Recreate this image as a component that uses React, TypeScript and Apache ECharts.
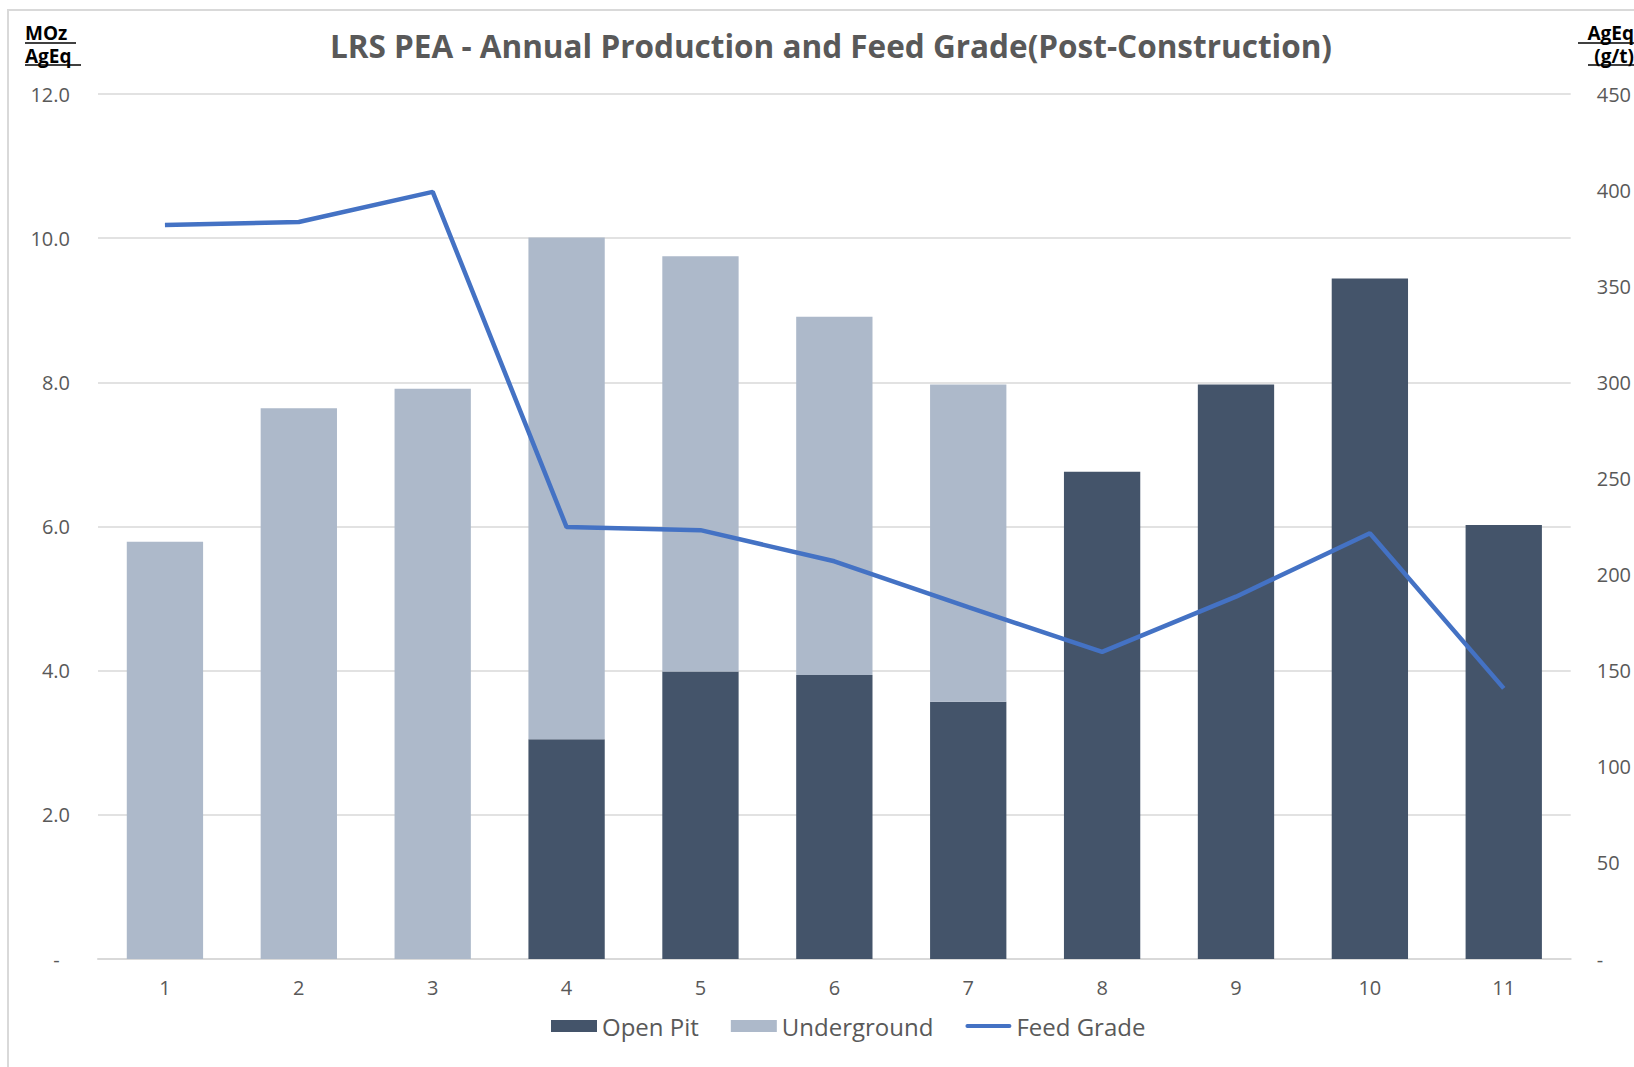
import React, { useEffect, useRef } from "react";
import * as echarts from "echarts";

const categories = ["1", "2", "3", "4", "5", "6", "7", "8", "9", "10", "11"];
const openPit = [0, 0, 0, 3.05, 3.99, 3.94, 3.57, 6.76, 7.97, 9.44, 6.02];
const underground = [5.79, 7.64, 7.91, 6.96, 5.76, 4.97, 4.4, 0, 0, 0, 0];
const feedGrade = [381.8, 383.4, 399.1, 224.7, 223.1, 206.9, 183.0, 159.8, 188.5, 221.5, 140.8];

const TITLE = "LRS PEA - Annual Production and Feed Grade(Post-Construction)";
const FONT = "'Open Sans', 'Noto Sans', sans-serif";

export default function App() {
  const ref = useRef<HTMLDivElement>(null);
  useEffect(() => {
    const chart = echarts.init(ref.current!, null, { renderer: "svg" });
    const hdr = (text: string, x: number, y: number, align: string) => ({
      type: "text",
      x,
      y,
      style: {
        text,
        font: `bold 19px ${FONT}`,
        fill: "#000000",
        align,
        verticalAlign: "top",
      },
    });
    const ul = (x1: number, x2: number, y: number) => ({
      type: "line",
      shape: { x1, y1: y, x2, y2: y },
      style: { stroke: "#000", lineWidth: 1.5 },
      silent: true,
    });
    chart.setOption({
      animation: false,
      backgroundColor: "#ffffff",
      textStyle: { fontFamily: FONT },
      title: {
        text: TITLE,
        left: 826,
        textAlign: "center",
        top: 24,
        textStyle: { fontSize: 31.5, fontWeight: "bold", color: "#595959", fontFamily: FONT },
      },
      graphic: [
        {
          type: "rect",
          shape: { x: 8, y: 10, width: 1700, height: 1100 },
          style: { fill: "none", stroke: "#d9d9d9", lineWidth: 2 },
          silent: true,
        },
        hdr("MOz", 25, 23, "left"),
        hdr("AgEq", 25, 46, "left"),
        ul(25, 76, 43),
        ul(25, 81, 65),
        hdr("AgEq", 1634, 23, "right"),
        hdr("(g/t)", 1634, 46, "right"),
        ul(1578, 1634, 43),
        ul(1588, 1634, 65),
      ],
      legend: {
        bottom: 24,
        left: 546,
        itemWidth: 46,
        itemHeight: 12,
        itemGap: 32,
        textStyle: { fontSize: 24, color: "#595959", fontFamily: FONT },
        data: [
          { name: "Open Pit", icon: "rect" },
          { name: "Underground", icon: "rect" },
          {
            name: "Feed Grade",
            icon: "path://M0,0 L0,0 M2,4 L44,4 A2,2 0 0 1 44,8 L2,8 A2,2 0 0 1 2,4 Z M46,12 L46,12",
          },
        ],
      },
      grid: { left: 98, right: 62, top: 94, bottom: 108, containLabel: false },
      xAxis: {
        type: "category",
        data: categories,
        axisLine: { lineStyle: { color: "#d9d9d9", width: 2 } },
        axisTick: { show: false },
        axisLabel: { fontSize: 20, color: "#595959", margin: 18 },
      },
      yAxis: [
        {
          type: "value",
          min: 0,
          max: 12,
          interval: 2,
          axisLine: { show: false },
          axisTick: { show: false },
          splitLine: { lineStyle: { color: "#d9d9d9", width: 1.5 } },
          axisLabel: {
            fontSize: 20,
            color: "#595959",
            margin: 28,
            formatter: (v: number) => (v === 0 ? "-  " : v.toFixed(1)),
          },
        },
        {
          type: "value",
          min: 0,
          max: 450,
          interval: 50,
          position: "right",
          axisLine: { show: false },
          axisTick: { show: false },
          splitLine: { show: false },
          axisLabel: {
            fontSize: 20,
            color: "#595959",
            margin: 26,
            formatter: (v: number) => (v === 0 ? "-" : String(v)),
          },
        },
      ],
      series: [
        {
          name: "Open Pit",
          type: "bar",
          stack: "prod",
          data: openPit,
          barWidth: "57%",
          itemStyle: { color: "#44546A" },
        },
        {
          name: "Underground",
          type: "bar",
          stack: "prod",
          data: underground,
          barWidth: "57%",
          itemStyle: { color: "#ADB9CA" },
        },
        {
          name: "Feed Grade",
          type: "line",
          yAxisIndex: 1,
          data: feedGrade,
          symbol: "none",
          showSymbol: false,
          lineStyle: { color: "#4472C4", width: 4.5 },
          itemStyle: { color: "#4472C4" },
        },
      ],
    });
    return () => chart.dispose();
  }, []);
  return (
    <div
      ref={ref}
      style={{ position: "fixed", left: 0, top: 0, width: 1634, height: 1067 }}
    />
  );
}
